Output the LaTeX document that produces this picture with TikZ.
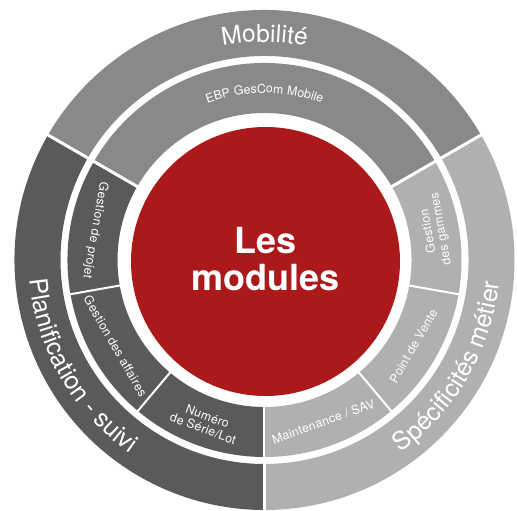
\documentclass[tikz,border=0pt]{standalone}
\usepackage{fontspec}
\setmainfont{TeX Gyre Heros}
\newfontfamily\smallfam[LetterSpace=2.5]{TeX Gyre Heros}
\usetikzlibrary{decorations.text}
\definecolor{cMob}{RGB}{137,136,139}
\definecolor{cPla}{RGB}{90,89,92}
\definecolor{cSpe}{RGB}{176,175,178}
\definecolor{cRed}{RGB}{172,25,26}
\newcommand\annsec[5]{\fill[#1] (#2:#4) arc[start angle=#2,end angle=#3,radius=#4] -- (#3:#5) arc[start angle=#3,end angle=#2,radius=#5] -- cycle;}
\tikzset{
  outersep/.style={draw=white, line width=3pt},
  innersep/.style={draw=white, line width=2pt},
  smalltxt/.style={text=white, font=\smallfam\fontsize{12.3}{13}\selectfont, align=center, inner sep=0pt},
}
\begin{document}
\begin{tikzpicture}[x=1pt,y=1pt]
\useasboundingbox (-264.5,-251) rectangle (252.5,260);
\clip (-264.5,-251) rectangle (252.5,260);
% outer ring
\annsec{cMob}{30}{150}{250}{204}
\annsec{cPla}{150}{270}{250}{204}
\annsec{cSpe}{270}{390}{250}{204}
% middle ring
\annsec{cMob}{30}{150}{197}{147}
\annsec{cPla}{150}{270}{197}{147}
\annsec{cSpe}{270}{390}{197}{147}
% separators
\foreach \a in {30,150,270} \draw[outersep] (\a:201) -- (\a:253);
\draw[outersep] (30:145) -- (30:199);
\draw[outersep] (150:145) -- (150:199);
\foreach \a in {190,230,270,310,350} \draw[innersep] (\a:145) -- (\a:199);
% center
\fill[cRed] (1,-1.5) circle (134.5);
\node[text=white, font=\bfseries\fontsize{36}{37}\selectfont, align=center, inner sep=0pt] (centre) at (1,1) {Les\\modules};
% outer labels
\path[decorate, decoration={text along path, text align=center, text color=white,
  text={|\fontsize{24.5}{24}\selectfont|Mobilité}}]
  (150:218) arc[start angle=150, end angle=30, radius=218];
\path[decorate, decoration={text along path, text align=center, text color=white,
  text={|\fontsize{25}{25}\selectfont|Planification - suivi}}]
  (150:235.5) arc[start angle=150, end angle=270, radius=235.5];
\path[decorate, decoration={text along path, text align=center, text color=white,
  text={|\fontsize{25}{25}\selectfont|Spécificités métier}}]
  (270:235.5) arc[start angle=270, end angle=390, radius=235.5];
% middle labels
\path[decorate, decoration={text along path, text align=center, text color=white,
  text={|\smallfam\fontsize{12.3}{12}\selectfont|EBP GesCom Mobile}}]
  (150:167) arc[start angle=150, end angle=30, radius=167];
\node[smalltxt, rotate=260] (projet) at (170:172) {Gestion de projet};
\node[smalltxt, rotate=300] (affaires) at (210:172) {Gestion des affaires};
\node[smalltxt, rotate=340] (serie) at (250:173) {Numéro\\de Série/Lot};
\node[smalltxt, rotate=20] (sav) at (290:172) {Maintenance / SAV};
\node[smalltxt, rotate=60] (vente) at (330:172) {Point de Vente};
\node[smalltxt, rotate=100] (gammes) at (10:173) {Gestion\\des gammes};
\end{tikzpicture}
\end{document}
